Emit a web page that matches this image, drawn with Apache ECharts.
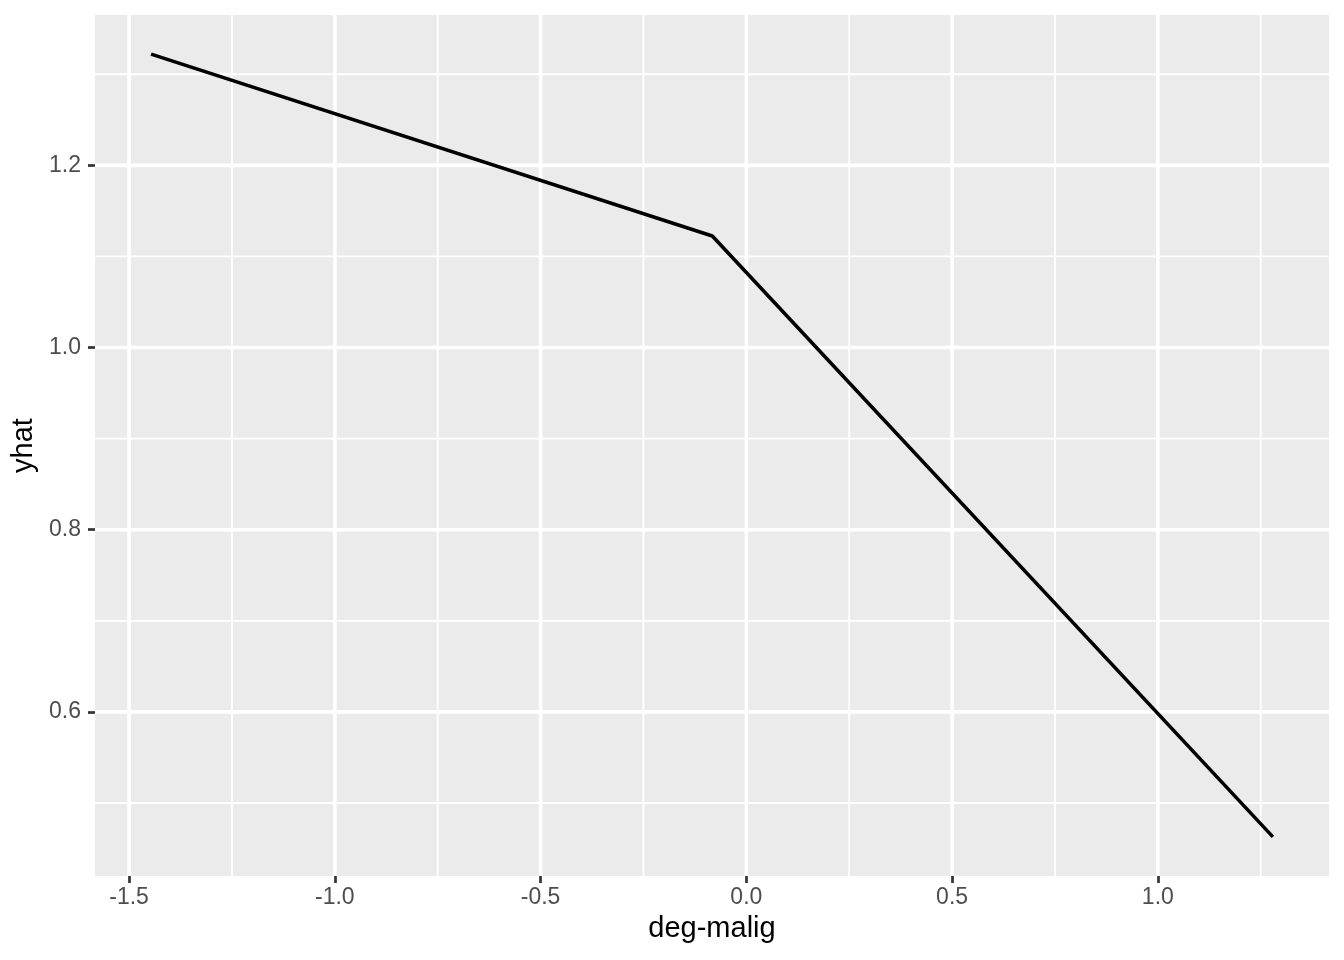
<!DOCTYPE html>
<html>
<head>
<meta charset="utf-8">
<script src="https://cdn.jsdelivr.net/npm/echarts@6/dist/echarts.min.js"></script>
<style>
  html, body { margin: 0; padding: 0; background: #fff; }
  #chart { width: 1344px; height: 960px; }
</style>
</head>
<body>
<div id="chart"></div>
<script>
var chart = echarts.init(document.getElementById('chart'), null, {renderer: 'canvas'});

// data
var degMalig = [-1.4465, -0.0827, 1.2796];
var yhat = [1.3221, 1.1224, 0.4628];

// ticks and grid lines
var xTicks = [-1.5, -1.0, -0.5, 0.0, 0.5, 1.0];
var xMinor = [-1.25, -0.75, -0.25, 0.25, 0.75, 1.25];
var yTicks = [0.6, 0.8, 1.0, 1.2];
var yMinor = [0.5, 0.7, 0.9, 1.1, 1.3];

// ggplot style 5% expansion of the data range
function expand(v) {
    var lo = Math.min.apply(null, v), hi = Math.max.apply(null, v);
    var d = (hi - lo) * 0.05;
    return [lo - d, hi + d];
}
var xr = expand(degMalig);
var yr = expand(yhat);

// panel grid lines, one small line series each
function gridSeries(pts, w) {
    return {
        type: 'line',
        data: pts,
        z: 1,
        silent: true,
        showSymbol: false,
        symbol: 'none',
        lineStyle: {color: '#ffffff', width: w}
    };
}
var series = [];
xMinor.forEach(function (v) { series.push(gridSeries([[v, yr[0]], [v, yr[1]]], 1.8)); });
yMinor.forEach(function (v) { series.push(gridSeries([[xr[0], v], [xr[1], v]], 1.8)); });
xTicks.forEach(function (v) { series.push(gridSeries([[v, yr[0]], [v, yr[1]]], 3.6)); });
yTicks.forEach(function (v) { series.push(gridSeries([[xr[0], v], [xr[1], v]], 3.6)); });

series.push({
    name: 'yhat',
    type: 'line',
    z: 5,
    data: degMalig.map(function (x, i) { return [x, yhat[i]]; }),
    showSymbol: false,
    symbol: 'none',
    lineStyle: {color: '#000000', width: 3.6}
});

var option = {
    animation: false,
    backgroundColor: '#ffffff',
    textStyle: {fontFamily: 'Liberation Sans, Arial, sans-serif'},
    grid: {
        left: 95,
        right: 15,
        top: 15,
        bottom: 84,
        show: true,
        backgroundColor: '#ebebeb',
        borderWidth: 0
    },
    xAxis: {
        type: 'value',
        min: xr[0],
        max: xr[1],
        name: 'deg-malig',
        nameLocation: 'middle',
        nameGap: 38,
        nameTextStyle: {fontSize: 29, color: '#000000'},
        axisLine: {show: false, onZero: false},
        axisTick: {
            show: true,
            length: 7,
            customValues: xTicks,
            lineStyle: {color: '#333333', width: 2.7}
        },
        axisLabel: {
            customValues: xTicks,
            fontSize: 23,
            color: '#4d4d4d',
            margin: 10,
            formatter: function (v) { return v.toFixed(1); }
        },
        splitLine: {show: false}
    },
    yAxis: {
        type: 'value',
        min: yr[0],
        max: yr[1],
        name: 'yhat',
        nameLocation: 'middle',
        nameGap: 40,
        nameRotate: 90,
        nameTextStyle: {fontSize: 29, color: '#000000'},
        axisLine: {show: false, onZero: false},
        axisTick: {
            show: true,
            length: 7,
            customValues: yTicks,
            lineStyle: {color: '#333333', width: 2.7}
        },
        axisLabel: {
            customValues: yTicks,
            fontSize: 23,
            color: '#4d4d4d',
            margin: 14,
            formatter: function (v) { return v.toFixed(1); }
        },
        splitLine: {show: false}
    },
    series: series
};

chart.setOption(option);
</script>
</body>
</html>
